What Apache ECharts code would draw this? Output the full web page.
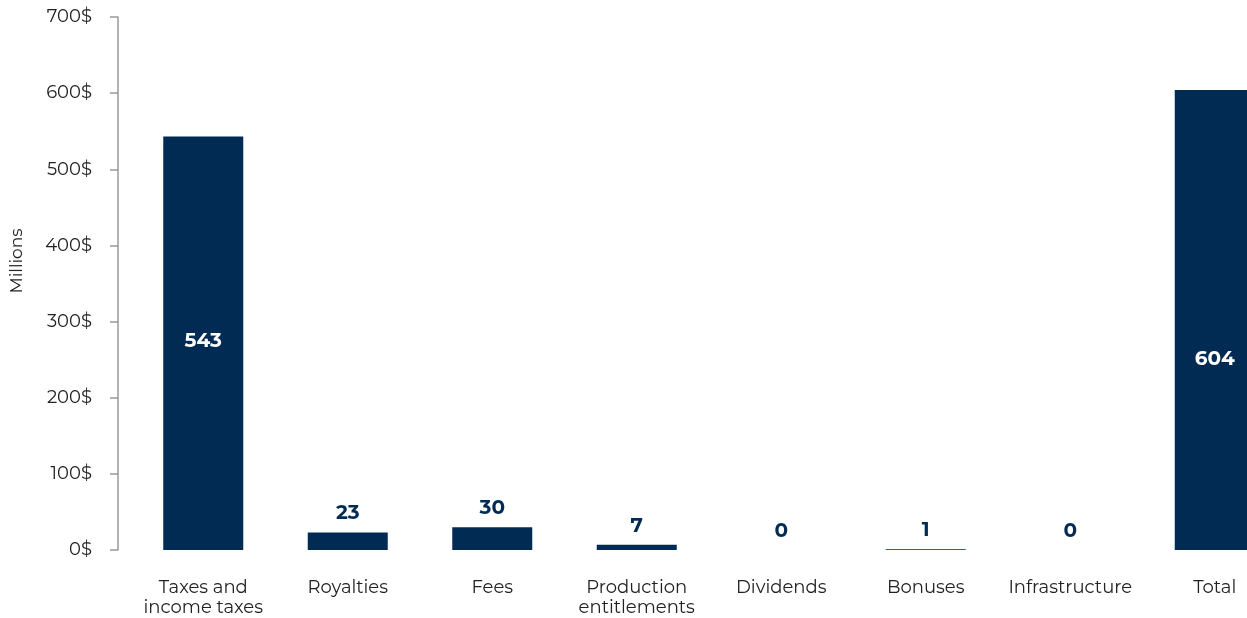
<!DOCTYPE html>
<html>
<head>
<meta charset="utf-8">
<script src="https://cdn.jsdelivr.net/npm/echarts@6/dist/echarts.min.js"></script>
<style>
  html, body { margin: 0; padding: 0; background: #fff; overflow: hidden; }
  /* the original chart runs past the right edge, so the canvas is a bit wider than the window */
  #chart { width: 1287px; height: 618px; }
</style>
</head>
<body>
<div id="chart"></div>
<script>
// revenue categories and amounts (millions $)
const categories = ['Taxes and\nincome taxes', 'Royalties', 'Fees', 'Production\nentitlements',
  'Dividends', 'Bonuses', 'Infrastructure', 'Total'];
const amounts = [543, 23, 30, 7, 0, 1, 0, 604];
const yTicks = [0, 100, 200, 300, 400, 500, 600, 700];

const navy = '#022b54';
const font = 'Montserrat, "Noto Sans", sans-serif';

// big bars get their label inside, small ones on top
const barData = amounts.map(function (v, i) {
  const inside = v > 100;
  return {
    value: v,
    label: inside ? {
      position: i === amounts.length - 1 ? ['50%', '58.6%'] : ['50%', '49.5%'],
      align: 'center',
      verticalAlign: 'middle',
      color: '#fff'
    } : {
      position: 'top',
      distance: 9,
      color: navy
    }
  };
});

const chart = echarts.init(document.getElementById('chart'));
chart.setOption({
  animation: false,
  grid: { left: 131, right: 0, top: 17, bottom: 68 },
  xAxis: {
    type: 'category',
    data: categories,
    axisLine: { show: false },
    axisTick: { show: false },
    axisLabel: {
      margin: 28,
      fontSize: 18,
      lineHeight: 20,
      color: '#222',
      fontFamily: font,
      interval: 0
    }
  },
  yAxis: {
    type: 'value',
    min: yTicks[0],
    max: yTicks[yTicks.length - 1],
    interval: 100,
    offset: 13,
    axisLine: { show: true, lineStyle: { color: '#999', width: 1.5 } },
    axisTick: { show: true, length: 8, lineStyle: { color: '#999', width: 1.5 } },
    splitLine: { show: false },
    axisLabel: {
      margin: 26,
      fontSize: 18,
      color: '#222',
      fontFamily: font,
      formatter: '{value}$'
    }
  },
  graphic: [{
    type: 'text',
    x: 17,
    y: 261,
    rotation: Math.PI / 2,
    style: {
      text: 'Millions',
      fontSize: 17,
      fill: '#222',
      fontFamily: font,
      align: 'center',
      verticalAlign: 'middle'
    }
  }],
  series: [{
    type: 'bar',
    data: barData,
    barWidth: 80,
    itemStyle: { color: navy },
    label: {
      show: true,
      fontSize: 20,
      fontWeight: 'bold',
      fontFamily: font
    }
  }]
});
</script>
</body>
</html>
